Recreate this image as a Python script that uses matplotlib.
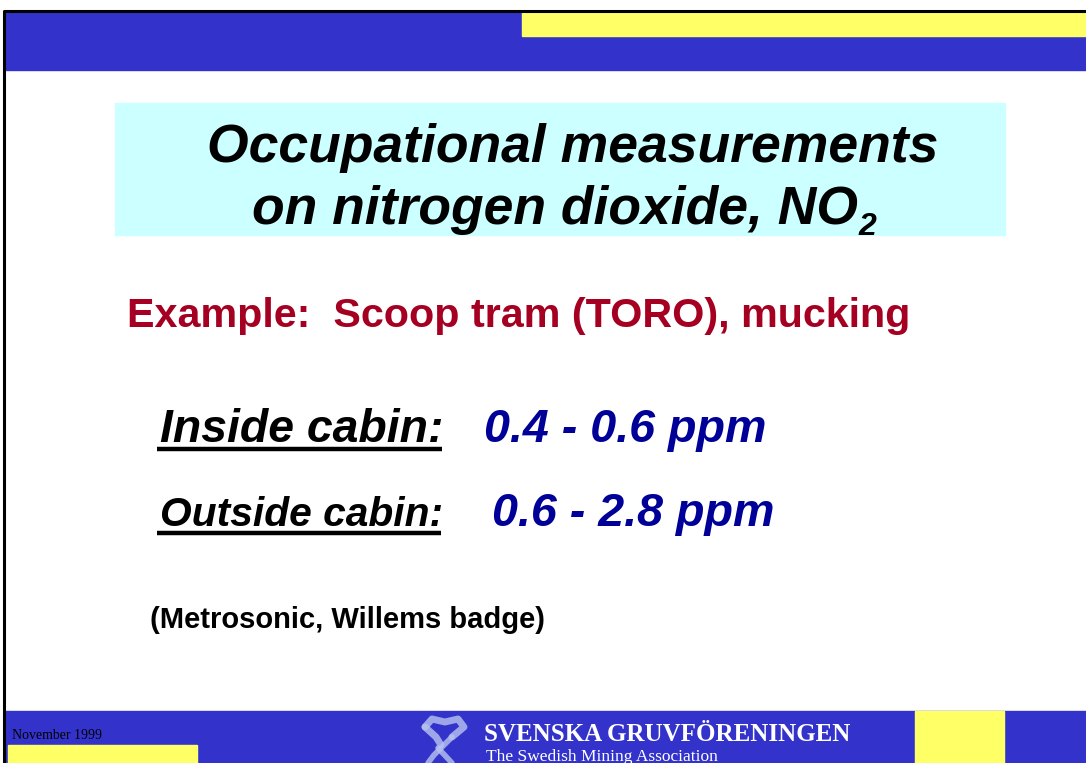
import matplotlib
matplotlib.use("Agg")
import matplotlib.pyplot as plt
from matplotlib.patches import Rectangle

# --------------------------------------------------
# Slide content
# --------------------------------------------------
title_lines = ["Occupational measurements", "on nitrogen dioxide, NO"]
title_sub = "2"
example_text = "Example:  Scoop tram (TORO), mucking"
labels = ["Inside cabin:", "Outside cabin:"]
ranges = ["0.4 - 0.6 ppm", "0.6 - 2.8 ppm"]
source_text = "(Metrosonic, Willems badge)"
date_text = "November 1999"
org_name = "SVENSKA GRUVFÖRENINGEN"
org_sub = "The Swedish Mining Association"

BLUE = "#3333CC"
YELLOW = "#FFFF66"
CYAN = "#CCFFFF"
DARKRED = "#A50021"
NAVY = "#000099"

W, H = 1086, 763
fig = plt.figure(figsize=(W / 100, H / 100), dpi=100)
ax = fig.add_axes([0, 0, 1, 1])
ax.set_xlim(0, W)
ax.set_ylim(H, 0)
ax.axis("off")

sans = "Liberation Sans"
serif = "Liberation Serif"

# --------------------------------------------------
# Frame and colour bands
# --------------------------------------------------
ax.add_patch(Rectangle((4, 12), W, 58, color=BLUE, zorder=1))
ax.add_patch(Rectangle((522, 12), W - 522, 24, color=YELLOW, zorder=2))
ax.add_patch(Rectangle((4, 711), W, 52, color=BLUE, zorder=1))
ax.add_patch(Rectangle((8, 745), 189, 18, color=YELLOW, zorder=2))
ax.add_patch(Rectangle((915, 711), 89, 52, color=YELLOW, zorder=2))
ax.plot([3.5, 3.5, W], [H, 11, 11], color="black", lw=2.2, zorder=3,
        solid_capstyle="butt")

# title box
ax.add_patch(Rectangle((115, 103), 890, 132, color=CYAN, zorder=1))

fig.canvas.draw()
r = fig.canvas.get_renderer()
inv = ax.transData.inverted()


def right_edge(t):
    bb = t.get_window_extent(renderer=r)
    return inv.transform([[bb.x1, bb.y0]])[0][0]


# --------------------------------------------------
# Title
# --------------------------------------------------
ax.text(573, 162, title_lines[0], family=sans, weight="bold", style="italic",
        fontsize=38.5, ha="center", va="baseline", zorder=4)
t2 = ax.text(252, 224, title_lines[1], family=sans, weight="bold",
             style="italic", fontsize=38.5, ha="left", va="baseline", zorder=4)
fig.canvas.draw()
ax.text(right_edge(t2) + 1, 235, title_sub, family=sans, weight="bold",
        style="italic", fontsize=23, ha="left", va="baseline", zorder=4)

# --------------------------------------------------
# Body
# --------------------------------------------------
ax.text(127, 327, example_text, family=sans, weight="bold", color=DARKRED,
        fontsize=29.7, ha="left", va="baseline", zorder=4)

label_x = [160, 160]
label_size = [33.4, 29.3]
range_x = [484, 492]
rows_y = [442, 526]
for lab, rng, lx, ls, rx, y in zip(labels, ranges, label_x, label_size,
                                   range_x, rows_y):
    t = ax.text(lx, y, lab, family=sans, weight="bold", style="italic",
                fontsize=ls, ha="left", va="baseline", zorder=4)
    ax.text(rx, y, rng, family=sans, weight="bold", style="italic",
            color=NAVY, fontsize=33.6, ha="left", va="baseline", zorder=4)
    fig.canvas.draw()
    ax.plot([lx - 3, right_edge(t) - 2], [y + 7, y + 7], color="black",
            lw=3.2, solid_capstyle="butt", zorder=4)

ax.text(150, 628, source_text, family=sans, weight="bold", fontsize=21,
        ha="left", va="baseline", zorder=4)

# --------------------------------------------------
# Footer
# --------------------------------------------------
ax.text(12, 739, date_text, family=serif, fontsize=10, ha="left",
        va="baseline", zorder=4)
ax.text(484, 741, org_name, family=serif, weight="bold", color="white",
        fontsize=18, ha="left", va="baseline", zorder=4)
ax.text(486, 761, org_sub, family=serif, color="white", fontsize=12.5,
        ha="left", va="baseline", zorder=4)

# logo (stylised crossed tool)
logo_c = "#B8C4F0"
ax.plot([425, 432, 445, 458, 464, 452], [727, 719, 722, 719, 727, 737],
        color=logo_c, lw=5, alpha=0.8, zorder=4, solid_capstyle="round")
ax.plot([425, 436, 441], [727, 737, 745], color=logo_c, lw=5, alpha=0.8,
        zorder=4, solid_capstyle="round")
ax.plot([452, 434, 428], [737, 755, 763], color=logo_c, lw=4, alpha=0.8,
        zorder=4, solid_capstyle="round")
ax.plot([438, 452], [748, 763], color=logo_c, lw=4, alpha=0.8, zorder=4,
        solid_capstyle="round")

fig.savefig("out.png", dpi=100)
